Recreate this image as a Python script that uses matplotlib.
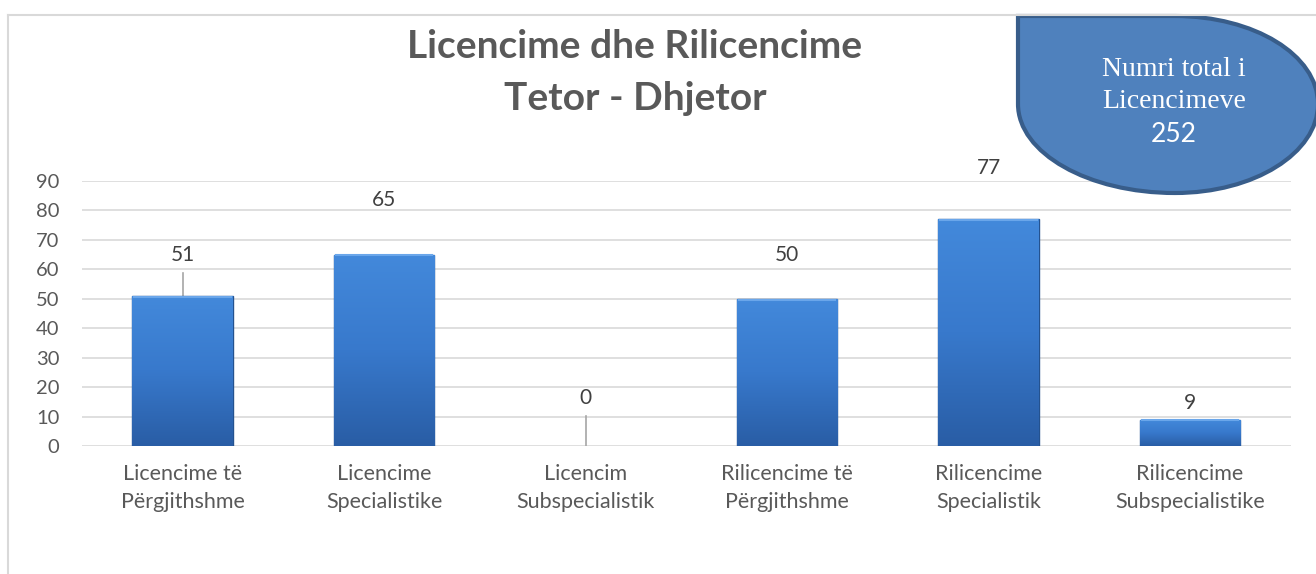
import numpy as np
import matplotlib
matplotlib.use("Agg")
import matplotlib.pyplot as plt
from matplotlib.path import Path
from matplotlib.patches import PathPatch
from matplotlib.lines import Line2D

# data
categories = ["Licencime të\nPërgjithshme", "Licencime\nSpecialistike", "Licencim\nSubspecialistik",
              "Rilicencime të\nPërgjithshme", "Rilicencime\nSpecialistik", "Rilicencime\nSubspecialistike"]
values = [51, 65, 0, 50, 77, 9]
yticks = [0, 10, 20, 30, 40, 50, 60, 70, 80, 90]
total_label = "252"

# where the (moved) data labels sit, in data units
label_y = [64.9, 83.6, 16.3, 64.9, 94.4, 14.6]
leader = [True, False, True, False, False, False]

W, H = 1316, 574
fig = plt.figure(figsize=(W / 100, H / 100), dpi=100)
fig.patch.set_facecolor("white")

gray = "#595959"
plt.rcParams["font.family"] = ["Lato", "DejaVu Sans"]

# chart border (cropped: only left and top visible)
fig.add_artist(Line2D([8 / W, 8 / W], [0, 1 - 15 / H], color="#D9D9D9", lw=1.5))
fig.add_artist(Line2D([8 / W, 1], [1 - 15 / H, 1 - 15 / H], color="#D9D9D9", lw=1.5))

ax = fig.add_axes([81.75 / W, 1 - 446 / H, (1290.75 - 81.75) / W, (446 - 181) / H])
ax.set_yticks(yticks)
ax.yaxis.grid(True, color="#D9D9D9", lw=1.2)
ax.set_axisbelow(True)
for s in ax.spines.values():
    s.set_visible(False)
ax.tick_params(axis="y", length=0, pad=16, labelsize=14.5, labelcolor=gray)
ax.tick_params(axis="x", length=0, pad=13, labelsize=15.5, labelcolor=gray)
ax.set_xticks(range(len(values)))
ax.set_xticklabels(categories, linespacing=1.5)

x = np.arange(len(values))
bars = ax.bar(x, values, width=0.5, color="#3A7BD0", edgecolor="#24528F", lw=1.0, zorder=2)

# gradient fill for the bars
grad = np.linspace(0, 1, 256).reshape(-1, 1)
cmap = matplotlib.colors.LinearSegmentedColormap.from_list("b", ["#295DA5", "#3879CC", "#4389DB"])
for b, v in zip(bars, values):
    if v <= 0:
        b.set_visible(False)
        continue
    bx, bw = b.get_x(), b.get_width()
    im = ax.imshow(grad, cmap=cmap, aspect="auto", origin="lower",
                   extent=[bx, bx + bw, 0, v], zorder=2.1)
    im.set_clip_path(b)
    # bevel on top
    ax.plot([bx + 0.01, bx + bw - 0.01], [v - 0.3, v - 0.3], color="#6AA6EA", lw=1.5, zorder=2.2)
ax.set_xlim(-0.5, len(values) - 0.5)
ax.set_ylim(0, 90)

for xi, v, ly, ld in zip(x, values, label_y, leader):
    ax.text(xi, ly, str(v), ha="center", va="center", fontsize=15, color="#404040", clip_on=False)
    if ld:
        ax.plot([xi, xi], [v, ly - 6], color="#A6A6A6", lw=1.2, zorder=1.5)

# title
fig.text(635 / W, 1 - 46 / H, "Licencime dhe Rilicencime", ha="center", va="center",
         fontsize=28, fontweight="bold", color=gray)
fig.text(635 / W, 1 - 99 / H, "Tetor - Dhjetor", ha="center", va="center",
         fontsize=28, fontweight="bold", color=gray)

# teardrop callout
cx, cy, rx, ry = 1175, 104, 143, 89
k = 0.5523
pts = [(1018, 16), (cx, 16),
       (cx + k * rx, 16), (cx + rx, cy - k * ry), (cx + rx, cy),
       (cx + rx, cy + k * ry), (cx + k * rx, cy + ry), (cx, cy + ry),
       (cx - (cx - 1018) * k, cy + ry), (1018, cy + k * ry), (1018, cy),
       (1018, 16), (1018, 16)]
codes = [Path.MOVETO, Path.LINETO,
         Path.CURVE4, Path.CURVE4, Path.CURVE4,
         Path.CURVE4, Path.CURVE4, Path.CURVE4,
         Path.CURVE4, Path.CURVE4, Path.CURVE4,
         Path.LINETO, Path.CLOSEPOLY]
pts = [(px / W, 1 - py / H) for px, py in pts]
fig.add_artist(PathPatch(Path(pts, codes), facecolor="#4F81BD", edgecolor="#385D8A",
                         lw=3, transform=fig.transFigure, clip_on=False))
fig.text(1174 / W, 1 - 70 / H, "Numri total i", ha="center", va="center",
         fontsize=20, color="white", family="Liberation Serif")
fig.text(1174 / W, 1 - 101 / H, "Licencimeve", ha="center", va="center",
         fontsize=20, color="white", family="Liberation Serif")
fig.text(1174 / W, 1 - 134 / H, total_label, ha="center", va="center",
         fontsize=19, color="white")

fig.savefig("out.png", dpi=100)
